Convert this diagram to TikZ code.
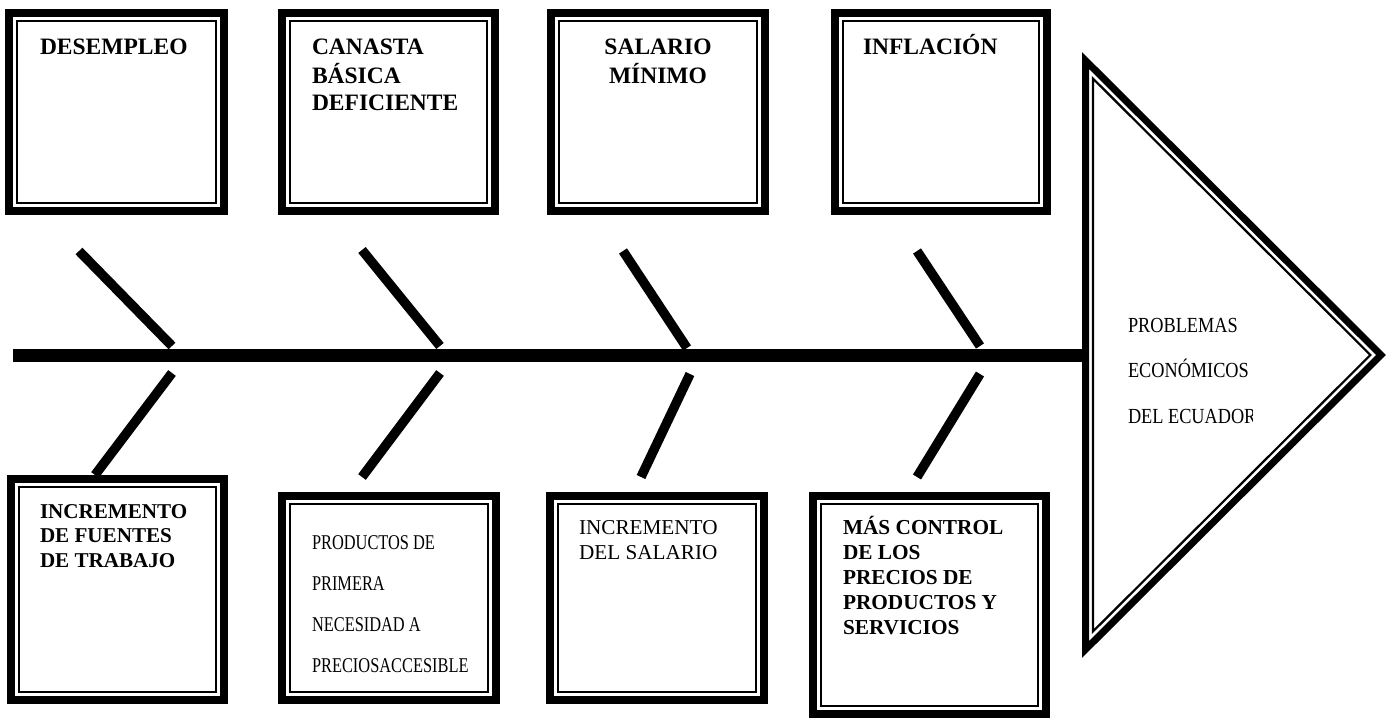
\documentclass[tikz,border=0pt]{standalone}
\usepackage{fontspec}
\setmainfont{Liberation Serif}
\newfontfamily\condA[FakeStretch=0.78]{Liberation Serif}
\newfontfamily\condB[FakeStretch=0.85]{Liberation Serif}
\usetikzlibrary{calc}
\tikzset{
  thickb/.style={line width=8pt, line join=miter},
  thinb/.style={line width=2.2pt, line join=miter},
  athick/.style={line width=7pt, line join=miter},
  athin/.style={line width=2.2pt, line join=miter},
  bone/.style={line width=9.5pt, line cap=butt},
  spine/.style={line width=13pt, line cap=butt},
  lab/.style={anchor=base west, inner sep=0pt, outer sep=0pt},
}
\newcommand\dblbox[3]{%
  \coordinate (#1-nw) at #2; \coordinate (#1-se) at #3;
  \draw[thickb] ($(#1-nw)+(4,4)$) rectangle ($(#1-se)+(-4,-4)$);
  \draw[thinb] ($(#1-nw)+(11.8,11.8)$) rectangle ($(#1-se)+(-11.8,-11.8)$);
}
\begin{document}
\begin{tikzpicture}[x=1pt,y=-1pt]
\useasboundingbox (0,0) rectangle (1391,719);
% top boxes
\dblbox{t1}{(5,9)}{(228,215)}
\dblbox{t2}{(278,9)}{(499,215)}
\dblbox{t3}{(547,9)}{(769,215)}
\dblbox{t4}{(831,9)}{(1051,215)}
% bottom boxes
\dblbox{b1}{(7,475)}{(228,704)}
\dblbox{b2}{(278,492)}{(500,704)}
\dblbox{b3}{(546,492)}{(768,704)}
\dblbox{b4}{(809,492)}{(1050,718)}
% arrow head
\draw[athick] (1085.5,60.5) -- (1381,355) -- (1085.5,649.5) -- cycle;
\draw[athin] (1093,78.6) -- (1370.4,355) -- (1093,631.4) -- cycle;
% spine
\coordinate (tail) at (13,355.5);
\coordinate (head) at (1086,355.5);
\draw[spine] (tail) -- (head);
% bones
\coordinate (u1a) at (79,251); \coordinate (u1b) at (172,346);
\coordinate (u2a) at (362,250); \coordinate (u2b) at (440,346);
\coordinate (u3a) at (623,251); \coordinate (u3b) at (687,348);
\coordinate (u4a) at (917,251); \coordinate (u4b) at (980,346);
\coordinate (l1a) at (172,373); \coordinate (l1b) at (95,475);
\coordinate (l2a) at (440,373); \coordinate (l2b) at (362,477);
\coordinate (l3a) at (690,374); \coordinate (l3b) at (641,477);
\coordinate (l4a) at (980,374); \coordinate (l4b) at (917,477);
\foreach \p in {u1,u2,u3,u4,l1,l2,l3,l4}{\draw[bone] (\p a) -- (\p b);}
% labels top
\node[lab, font=\fontsize{23.5}{27}\selectfont\bfseries] (n1) at (40,55) {DESEMPLEO};
\node[lab, font=\fontsize{23.5}{27}\selectfont\bfseries] (n2) at (312,55) {\begin{tabular}[t]{@{}l@{}}CANASTA\\BÁSICA\\DEFICIENTE\end{tabular}};
\node[lab, anchor=base, font=\fontsize{23.5}{27}\selectfont\bfseries] (n3) at (658,55) {\begin{tabular}[t]{@{}c@{}}SALARIO\\MÍNIMO\end{tabular}};
\node[lab, font=\fontsize{23.5}{27}\selectfont\bfseries] (n4) at (863,55) {INFLACIÓN};
% labels bottom
\node[lab, font=\fontsize{21.1}{24.5}\selectfont\bfseries] (m1) at (40,518) {\begin{tabular}[t]{@{}l@{}}INCREMENTO\\DE FUENTES\\DE TRABAJO\end{tabular}};
\node[lab, font=\fontsize{21}{41}\selectfont\condA] (m2) at (312,549) {\begin{tabular}[t]{@{}l@{}}PRODUCTOS DE\\PRIMERA\\NECESIDAD A\\PRECIOSACCESIBLE\end{tabular}};
\node[lab, font=\fontsize{21.2}{25}\selectfont] (m3) at (579,534) {\begin{tabular}[t]{@{}l@{}}INCREMENTO\\DEL SALARIO\end{tabular}};
\node[lab, font=\fontsize{21.3}{25}\selectfont\bfseries] (m4) at (843,534) {\begin{tabular}[t]{@{}l@{}}MÁS CONTROL\\DE LOS\\PRECIOS DE\\PRODUCTOS Y\\SERVICIOS\end{tabular}};
% head label (clipped as printed)
\begin{scope}
\clip (1100,290) rectangle (1252,450);
\node[lab, font=\fontsize{21.5}{45.5}\selectfont\condB] (hd) at (1128,332) {\begin{tabular}[t]{@{}l@{}}PROBLEMAS\\ECONÓMICOS\\DEL ECUADOR\end{tabular}};
\end{scope}
\end{tikzpicture}
\end{document}
